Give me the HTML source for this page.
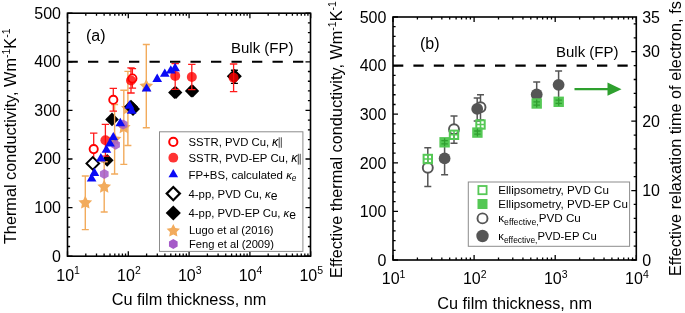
<!DOCTYPE html>
<html><head><meta charset="utf-8"><style>
html,body{margin:0;padding:0;background:#fff;}
body{width:685px;height:313px;overflow:hidden;font-family:"Liberation Sans",sans-serif;}
svg{display:block;will-change:transform;}
text{fill:#000;}
</style></head><body><svg width="685" height="313" viewBox="0 0 685 313" font-family='"Liberation Sans", sans-serif' fill="#000"><line x1="67.5" y1="61.80" x2="310.5" y2="61.80" stroke="#000" stroke-width="2.1" stroke-dasharray="10.3 10.2"/><path d="M112.00,112.60L118.80,119.40L112.00,126.20L105.20,119.40Z" fill="#000"/><path d="M107.20,153.90L113.60,160.30L107.20,166.70L100.80,160.30Z" fill="#000"/><path d="M174.50,86.20L180.90,92.60L174.50,99.00L168.10,92.60Z" fill="#000"/><path d="M176.00,86.20L182.40,92.60L176.00,99.00L169.60,92.60Z" fill="#000"/><path d="M191.30,84.60L197.70,91.00L191.30,97.40L184.90,91.00Z" fill="#000"/><path d="M192.80,84.60L199.20,91.00L192.80,97.40L186.40,91.00Z" fill="#000"/><path d="M234.00,69.00L241.20,76.20L234.00,83.40L226.80,76.20Z" fill="#000"/><path d="M234.60,69.00L241.80,76.20L234.60,83.40L227.40,76.20Z" fill="#000"/><path d="M234.40,70.30V83.40M230.90,70.30h7.0M230.90,83.40h7.0" stroke="#000" stroke-width="1.4" fill="none"/><polygon points="85.30,195.60 87.42,199.89 92.15,200.58 88.72,203.91 89.53,208.62 85.30,206.40 81.07,208.62 81.88,203.91 78.45,200.58 83.18,199.89" fill="#f2ab5c"/><polygon points="104.20,179.80 106.32,184.09 111.05,184.78 107.62,188.11 108.43,192.82 104.20,190.60 99.97,192.82 100.78,188.11 97.35,184.78 102.08,184.09" fill="#f2ab5c"/><polygon points="114.60,132.10 116.72,136.39 121.45,137.08 118.02,140.41 118.83,145.12 114.60,142.90 110.37,145.12 111.18,140.41 107.75,137.08 112.48,136.39" fill="#f2ab5c"/><polygon points="123.80,120.20 125.92,124.49 130.65,125.18 127.22,128.51 128.03,133.22 123.80,131.00 119.57,133.22 120.38,128.51 116.95,125.18 121.68,124.49" fill="#f2ab5c"/><polygon points="127.90,101.20 130.02,105.49 134.75,106.18 131.32,109.51 132.13,114.22 127.90,112.00 123.67,114.22 124.48,109.51 121.05,106.18 125.78,105.49" fill="#f2ab5c"/><polygon points="146.30,78.90 148.42,83.19 153.15,83.88 149.72,87.21 150.53,91.92 146.30,89.70 142.07,91.92 142.88,87.21 139.45,83.88 144.18,83.19" fill="#f2ab5c"/><path d="M85.30,176.00V229.60M81.80,176.00h7.0M81.80,229.60h7.0" stroke="#f2ab5c" stroke-width="1.4" fill="none"/><path d="M104.20,161.80V212.00M100.70,161.80h7.0M100.70,212.00h7.0" stroke="#f2ab5c" stroke-width="1.4" fill="none"/><path d="M114.60,104.50V174.00M111.10,104.50h7.0M111.10,174.00h7.0" stroke="#f2ab5c" stroke-width="1.4" fill="none"/><path d="M123.80,90.20V164.40M120.30,90.20h7.0M120.30,164.40h7.0" stroke="#f2ab5c" stroke-width="1.4" fill="none"/><path d="M127.90,71.40V145.50M124.40,71.40h7.0M124.40,145.50h7.0" stroke="#f2ab5c" stroke-width="1.4" fill="none"/><path d="M146.30,44.50V127.70M142.80,44.50h7.0M142.80,127.70h7.0" stroke="#f2ab5c" stroke-width="1.4" fill="none"/><path d="M93.70,133.20V165.00M90.00,133.20h7.4M90.00,165.00h7.4" stroke="#ff1a1a" stroke-width="1.3" fill="none"/><path d="M105.40,124.30V156.20M101.70,124.30h7.4M101.70,156.20h7.4" stroke="#ff1a1a" stroke-width="1.3" fill="none"/><path d="M113.30,88.40V111.10M109.60,88.40h7.4M109.60,111.10h7.4" stroke="#ff1a1a" stroke-width="1.3" fill="none"/><path d="M131.00,67.90V93.00M127.30,67.90h7.4M127.30,93.00h7.4" stroke="#ff1a1a" stroke-width="1.3" fill="none"/><path d="M132.40,68.60V88.20M128.70,68.60h7.4M128.70,88.20h7.4" stroke="#ff1a1a" stroke-width="1.3" fill="none"/><path d="M175.20,63.60V89.30M171.50,63.60h7.4M171.50,89.30h7.4" stroke="#ff1a1a" stroke-width="1.3" fill="none"/><path d="M191.80,64.30V89.70M188.10,64.30h7.4M188.10,89.70h7.4" stroke="#ff1a1a" stroke-width="1.3" fill="none"/><path d="M233.60,64.00V91.60M229.90,64.00h7.4M229.90,91.60h7.4" stroke="#ff1a1a" stroke-width="1.3" fill="none"/><circle cx="93.70" cy="149.10" r="4.1" fill="#fff" stroke="#ff0000" stroke-width="1.9"/><circle cx="113.30" cy="99.80" r="4.1" fill="#fff" stroke="#ff0000" stroke-width="1.9"/><circle cx="132.40" cy="78.50" r="4.1" fill="#fff" stroke="#ff0000" stroke-width="1.9"/><circle cx="105.40" cy="140.20" r="5.0" fill="#ff0000" fill-opacity="0.8"/><circle cx="131.00" cy="80.50" r="5.0" fill="#ff0000" fill-opacity="0.8"/><circle cx="175.20" cy="75.90" r="5.0" fill="#ff0000" fill-opacity="0.8"/><circle cx="191.80" cy="77.00" r="5.0" fill="#ff0000" fill-opacity="0.8"/><circle cx="233.60" cy="77.80" r="5.0" fill="#ff0000" fill-opacity="0.8"/><path d="M92.80,157.10L99.10,163.40L92.80,169.70L86.50,163.40Z" fill="#fff" stroke="#000" stroke-width="2.0" stroke-linejoin="miter"/><path d="M131.00,99.80L138.00,106.80L131.00,113.80L124.00,106.80Z" fill="#000"/><path d="M133.00,102.00L140.00,109.00L133.00,116.00L126.00,109.00Z" fill="#000"/><g opacity="0.85"><polygon points="104.30,169.00 108.63,171.50 108.63,176.50 104.30,179.00 99.97,176.50 99.97,171.50" fill="#a55ac8"/></g><g opacity="0.85"><polygon points="115.60,139.80 119.93,142.30 119.93,147.30 115.60,149.80 111.27,147.30 111.27,142.30" fill="#a55ac8"/></g><g opacity="0.85"><polygon points="123.20,119.60 127.53,122.10 127.53,127.10 123.20,129.60 118.87,127.10 118.87,122.10" fill="#a55ac8"/></g><path d="M91.60,173.20L96.45,181.60L86.75,181.60Z" fill="#0a0af5"/><path d="M94.40,167.60L99.25,176.00L89.55,176.00Z" fill="#0a0af5"/><path d="M100.90,153.00L105.75,161.40L96.05,161.40Z" fill="#0a0af5"/><path d="M106.40,144.40L111.25,152.80L101.55,152.80Z" fill="#0a0af5"/><path d="M110.00,138.10L114.85,146.50L105.15,146.50Z" fill="#0a0af5"/><path d="M113.30,131.90L118.15,140.30L108.45,140.30Z" fill="#0a0af5"/><path d="M120.30,117.80L125.15,126.20L115.45,126.20Z" fill="#0a0af5"/><path d="M129.50,100.30L134.35,108.70L124.65,108.70Z" fill="#0a0af5"/><path d="M131.60,105.40L136.45,113.80L126.75,113.80Z" fill="#0a0af5"/><path d="M146.60,83.20L151.45,91.60L141.75,91.60Z" fill="#0a0af5"/><path d="M157.20,73.60L162.05,82.00L152.35,82.00Z" fill="#0a0af5"/><path d="M164.80,68.40L169.65,76.80L159.95,76.80Z" fill="#0a0af5"/><path d="M170.80,65.20L175.65,73.60L165.95,73.60Z" fill="#0a0af5"/><path d="M175.10,62.80L179.95,71.20L170.25,71.20Z" fill="#0a0af5"/><path d="M67.5,256.20h5 M310.5,256.20h-5 M67.5,246.48h2.6 M310.5,246.48h-2.6 M67.5,236.76h2.6 M310.5,236.76h-2.6 M67.5,227.04h2.6 M310.5,227.04h-2.6 M67.5,217.32h2.6 M310.5,217.32h-2.6 M67.5,207.60h5 M310.5,207.60h-5 M67.5,197.88h2.6 M310.5,197.88h-2.6 M67.5,188.16h2.6 M310.5,188.16h-2.6 M67.5,178.44h2.6 M310.5,178.44h-2.6 M67.5,168.72h2.6 M310.5,168.72h-2.6 M67.5,159.00h5 M310.5,159.00h-5 M67.5,149.28h2.6 M310.5,149.28h-2.6 M67.5,139.56h2.6 M310.5,139.56h-2.6 M67.5,129.84h2.6 M310.5,129.84h-2.6 M67.5,120.12h2.6 M310.5,120.12h-2.6 M67.5,110.40h5 M310.5,110.40h-5 M67.5,100.68h2.6 M310.5,100.68h-2.6 M67.5,90.96h2.6 M310.5,90.96h-2.6 M67.5,81.24h2.6 M310.5,81.24h-2.6 M67.5,71.52h2.6 M310.5,71.52h-2.6 M67.5,61.80h5 M310.5,61.80h-5 M67.5,52.08h2.6 M310.5,52.08h-2.6 M67.5,42.36h2.6 M310.5,42.36h-2.6 M67.5,32.64h2.6 M310.5,32.64h-2.6 M67.5,22.92h2.6 M310.5,22.92h-2.6 M67.5,13.20h5 M310.5,13.20h-5 M67.50,256.2v-5 M67.50,13.2v5 M85.80,256.2v-2.6 M85.80,13.2v2.6 M96.51,256.2v-2.6 M96.51,13.2v2.6 M104.11,256.2v-2.6 M104.11,13.2v2.6 M110.00,256.2v-2.6 M110.00,13.2v2.6 M114.81,256.2v-2.6 M114.81,13.2v2.6 M118.88,256.2v-2.6 M118.88,13.2v2.6 M122.41,256.2v-2.6 M122.41,13.2v2.6 M125.52,256.2v-2.6 M125.52,13.2v2.6 M128.30,256.2v-5 M128.30,13.2v5 M146.60,256.2v-2.6 M146.60,13.2v2.6 M157.31,256.2v-2.6 M157.31,13.2v2.6 M164.91,256.2v-2.6 M164.91,13.2v2.6 M170.80,256.2v-2.6 M170.80,13.2v2.6 M175.61,256.2v-2.6 M175.61,13.2v2.6 M179.68,256.2v-2.6 M179.68,13.2v2.6 M183.21,256.2v-2.6 M183.21,13.2v2.6 M186.32,256.2v-2.6 M186.32,13.2v2.6 M189.10,256.2v-5 M189.10,13.2v5 M207.40,256.2v-2.6 M207.40,13.2v2.6 M218.11,256.2v-2.6 M218.11,13.2v2.6 M225.71,256.2v-2.6 M225.71,13.2v2.6 M231.60,256.2v-2.6 M231.60,13.2v2.6 M236.41,256.2v-2.6 M236.41,13.2v2.6 M240.48,256.2v-2.6 M240.48,13.2v2.6 M244.01,256.2v-2.6 M244.01,13.2v2.6 M247.12,256.2v-2.6 M247.12,13.2v2.6 M249.90,256.2v-5 M249.90,13.2v5 M268.20,256.2v-2.6 M268.20,13.2v2.6 M278.91,256.2v-2.6 M278.91,13.2v2.6 M286.51,256.2v-2.6 M286.51,13.2v2.6 M292.40,256.2v-2.6 M292.40,13.2v2.6 M297.21,256.2v-2.6 M297.21,13.2v2.6 M301.28,256.2v-2.6 M301.28,13.2v2.6 M304.81,256.2v-2.6 M304.81,13.2v2.6 M307.92,256.2v-2.6 M307.92,13.2v2.6 M310.70,256.2v-5 M310.70,13.2v5" stroke="#000" stroke-width="1.3" fill="none"/><rect x="67.5" y="13.2" width="243.0" height="243.0" fill="none" stroke="#000" stroke-width="1.6"/><text x="61" y="261.5" font-size="16" text-anchor="end" >0</text><text x="61" y="212.9" font-size="16" text-anchor="end" >100</text><text x="61" y="164.3" font-size="16" text-anchor="end" >200</text><text x="61" y="115.7" font-size="16" text-anchor="end" >300</text><text x="61" y="67.1" font-size="16" text-anchor="end" >400</text><text x="61" y="18.5" font-size="16" text-anchor="end" >500</text><text x="68.1" y="280.6" font-size="16" text-anchor="middle">10<tspan font-size="10.5" dy="-6.3">1</tspan></text><text x="128.9" y="280.6" font-size="16" text-anchor="middle">10<tspan font-size="10.5" dy="-6.3">2</tspan></text><text x="189.7" y="280.6" font-size="16" text-anchor="middle">10<tspan font-size="10.5" dy="-6.3">3</tspan></text><text x="250.5" y="280.6" font-size="16" text-anchor="middle">10<tspan font-size="10.5" dy="-6.3">4</tspan></text><text x="311.3" y="280.6" font-size="16" text-anchor="middle">10<tspan font-size="10.5" dy="-6.3">5</tspan></text><text x="189" y="304.8" font-size="16.3" text-anchor="middle" >Cu film thickness, nm</text><text transform="translate(15.9,136.3) rotate(-90)" font-size="16.3" text-anchor="middle">Thermal conductivity, Wm<tspan font-size="10.5" dy="-6">-1</tspan><tspan dy="6">K</tspan><tspan font-size="10.5" dy="-6">-1</tspan></text><text x="86" y="40.8" font-size="16" text-anchor="start" >(a)</text><text x="231" y="52.8" font-size="15" text-anchor="start" >Bulk (FP)</text><rect x="159.5" y="131.8" width="143.4" height="119.6" fill="#fff" stroke="#8c8c8c" stroke-width="1"/><circle cx="173.30" cy="141.90" r="4.1" fill="#fff" stroke="#ff0000" stroke-width="2.0"/><circle cx="173.30" cy="157.70" r="4.9" fill="#ff0000" fill-opacity="0.8"/><path d="M173.30,168.90L178.10,177.21L168.50,177.21Z" fill="#0a0af5"/><path d="M173.30,187.00L179.90,193.60L173.30,200.20L166.70,193.60Z" fill="#fff" stroke="#000" stroke-width="2.2" stroke-linejoin="miter"/><path d="M173.30,205.40L180.90,213.00L173.30,220.60L165.70,213.00Z" fill="#000"/><polygon points="173.30,223.90 175.36,228.07 179.96,228.74 176.63,231.98 177.41,236.56 173.30,234.40 169.19,236.56 169.97,231.98 166.64,228.74 171.24,228.07" fill="#f2ab5c"/><polygon points="173.30,239.00 177.63,241.50 177.63,246.50 173.30,249.00 168.97,246.50 168.97,241.50" fill="#a55ac8"/><text x="188.5" y="145.7" font-size="11.7" textLength="80.6" lengthAdjust="spacingAndGlyphs">SSTR, PVD Cu,</text><text x="272.0" y="145.7" font-size="12.6" font-style="italic">κ</text><path d="M279.2,137.3V147.8M281.3,137.3V147.8" stroke="#333" stroke-width="0.9"/><text x="188.5" y="162.2" font-size="11.7" textLength="99.6" lengthAdjust="spacingAndGlyphs">SSTR, PVD-EP Cu,</text><text x="291.2" y="162.2" font-size="12.6" font-style="italic">κ</text><path d="M298.3,153.8V164.6M300.2,153.8V164.6" stroke="#333" stroke-width="0.9"/><text x="188.5" y="178.5" font-size="11.7" textLength="108" lengthAdjust="spacingAndGlyphs">FP+BS, calculated <tspan font-style="italic">κ<tspan font-size="8.5" dy="2.5">e</tspan></tspan></text><text x="188.5" y="197.5" font-size="11.7" textLength="89" lengthAdjust="spacingAndGlyphs">4-pp, PVD Cu, <tspan font-style="italic">κ</tspan><tspan dy="2" font-size="12.5">e</tspan></text><text x="188.5" y="216.8" font-size="11.7" textLength="107.5" lengthAdjust="spacingAndGlyphs">4-pp, PVD-EP Cu, <tspan font-style="italic">κ</tspan><tspan dy="2" font-size="12.5">e</tspan></text><text x="189.0" y="234.3" font-size="11.7" textLength="84.6" lengthAdjust="spacingAndGlyphs">Lugo et al (2016)</text><text x="189.0" y="247.8" font-size="11.7" textLength="85" lengthAdjust="spacingAndGlyphs">Feng et al (2009)</text><line x1="393.0" y1="65.60" x2="636.3" y2="65.60" stroke="#000" stroke-width="2.1" stroke-dasharray="10.3 10.1"/><path d="M427.80,147.70V186.40M424.30,147.70h7.0M424.30,186.40h7.0" stroke="#555555" stroke-width="1.5" fill="none"/><path d="M444.60,142.00V174.70M441.10,142.00h7.0M441.10,174.70h7.0" stroke="#555555" stroke-width="1.5" fill="none"/><path d="M454.00,116.00V143.20M450.50,116.00h7.0M450.50,143.20h7.0" stroke="#555555" stroke-width="1.5" fill="none"/><path d="M480.50,94.80V120.00M477.00,94.80h7.0M477.00,120.00h7.0" stroke="#555555" stroke-width="1.5" fill="none"/><path d="M477.20,98.10V121.00M473.70,98.10h7.0M473.70,121.00h7.0" stroke="#555555" stroke-width="1.5" fill="none"/><path d="M536.70,81.90V107.00M533.20,81.90h7.0M533.20,107.00h7.0" stroke="#555555" stroke-width="1.5" fill="none"/><path d="M558.60,71.10V98.50M555.10,71.10h7.0M555.10,98.50h7.0" stroke="#555555" stroke-width="1.5" fill="none"/><circle cx="427.80" cy="167.70" r="5.0" fill="#fff" stroke="#555555" stroke-width="1.9"/><circle cx="454.00" cy="129.20" r="5.0" fill="#fff" stroke="#555555" stroke-width="1.9"/><circle cx="480.50" cy="107.30" r="5.0" fill="#fff" stroke="#555555" stroke-width="1.9"/><circle cx="444.60" cy="158.40" r="5.9" fill="#555555"/><circle cx="477.20" cy="108.90" r="5.9" fill="#555555"/><circle cx="536.70" cy="94.50" r="5.9" fill="#555555"/><circle cx="558.60" cy="84.80" r="5.9" fill="#555555"/><rect x="423.60" y="154.80" width="8.4" height="8.4" fill="none" stroke="#55c855" stroke-width="2.0"/><path d="M427.8,154.5V163.5M423.3,159.0h9" stroke="#55c855" stroke-width="1.6"/><rect x="439.40" y="137.10" width="10.4" height="10.4" fill="#55c855"/><path d="M444.6,138.3V146.3M441.40000000000003,140.70000000000002h6.4M441.40000000000003,143.9h6.4" stroke="#2f9e2f" stroke-width="1.3"/><rect x="449.80" y="130.60" width="8.4" height="8.4" fill="none" stroke="#55c855" stroke-width="2.0"/><path d="M454.0,130.3V139.3M449.5,134.8h9" stroke="#55c855" stroke-width="1.6"/><rect x="476.30" y="120.30" width="8.4" height="8.4" fill="none" stroke="#55c855" stroke-width="2.0"/><path d="M480.5,120.0V129.0M476.0,124.5h9" stroke="#55c855" stroke-width="1.6"/><rect x="472.20" y="127.40" width="10.4" height="10.4" fill="#55c855"/><path d="M477.4,128.6V136.6M474.2,131.0h6.4M474.2,134.2h6.4" stroke="#2f9e2f" stroke-width="1.3"/><rect x="531.50" y="98.30" width="10.4" height="10.4" fill="#55c855"/><path d="M536.7,99.5V107.5M533.5,101.9h6.4M533.5,105.1h6.4" stroke="#2f9e2f" stroke-width="1.3"/><rect x="553.50" y="96.60" width="10.4" height="10.4" fill="#55c855"/><path d="M558.7,97.8V105.8M555.5,100.2h6.4M555.5,103.39999999999999h6.4" stroke="#2f9e2f" stroke-width="1.3"/><path d="M574.5,89.2H609" stroke="#2ea02e" stroke-width="2.2"/><path d="M607.5,82.6L621.5,89.2L607.5,95.8Z" fill="#2ea02e"/><path d="M393.0,260.00h5 M393.0,250.28h2.6 M393.0,240.56h2.6 M393.0,230.84h2.6 M393.0,221.12h2.6 M393.0,211.40h5 M393.0,201.68h2.6 M393.0,191.96h2.6 M393.0,182.24h2.6 M393.0,172.52h2.6 M393.0,162.80h5 M393.0,153.08h2.6 M393.0,143.36h2.6 M393.0,133.64h2.6 M393.0,123.92h2.6 M393.0,114.20h5 M393.0,104.48h2.6 M393.0,94.76h2.6 M393.0,85.04h2.6 M393.0,75.32h2.6 M393.0,65.60h5 M393.0,55.88h2.6 M393.0,46.16h2.6 M393.0,36.44h2.6 M393.0,26.72h2.6 M393.0,17.00h5 M636.3,260.00h-5 M636.3,246.11h-2.6 M636.3,232.23h-2.6 M636.3,218.34h-2.6 M636.3,204.46h-2.6 M636.3,190.57h-5 M636.3,176.69h-2.6 M636.3,162.80h-2.6 M636.3,148.91h-2.6 M636.3,135.03h-2.6 M636.3,121.14h-5 M636.3,107.26h-2.6 M636.3,93.37h-2.6 M636.3,79.49h-2.6 M636.3,65.60h-2.6 M636.3,51.71h-5 M636.3,37.83h-2.6 M636.3,23.94h-2.6 M393.00,260.0v-5 M393.00,17.0v5 M417.41,260.0v-2.6 M417.41,17.0v2.6 M431.69,260.0v-2.6 M431.69,17.0v2.6 M441.83,260.0v-2.6 M441.83,17.0v2.6 M449.69,260.0v-2.6 M449.69,17.0v2.6 M456.11,260.0v-2.6 M456.11,17.0v2.6 M461.54,260.0v-2.6 M461.54,17.0v2.6 M466.24,260.0v-2.6 M466.24,17.0v2.6 M470.39,260.0v-2.6 M470.39,17.0v2.6 M474.10,260.0v-5 M474.10,17.0v5 M498.51,260.0v-2.6 M498.51,17.0v2.6 M512.79,260.0v-2.6 M512.79,17.0v2.6 M522.93,260.0v-2.6 M522.93,17.0v2.6 M530.79,260.0v-2.6 M530.79,17.0v2.6 M537.21,260.0v-2.6 M537.21,17.0v2.6 M542.64,260.0v-2.6 M542.64,17.0v2.6 M547.34,260.0v-2.6 M547.34,17.0v2.6 M551.49,260.0v-2.6 M551.49,17.0v2.6 M555.20,260.0v-5 M555.20,17.0v5 M579.61,260.0v-2.6 M579.61,17.0v2.6 M593.89,260.0v-2.6 M593.89,17.0v2.6 M604.03,260.0v-2.6 M604.03,17.0v2.6 M611.89,260.0v-2.6 M611.89,17.0v2.6 M618.31,260.0v-2.6 M618.31,17.0v2.6 M623.74,260.0v-2.6 M623.74,17.0v2.6 M628.44,260.0v-2.6 M628.44,17.0v2.6 M632.59,260.0v-2.6 M632.59,17.0v2.6 M636.30,260.0v-5 M636.30,17.0v5" stroke="#000" stroke-width="1.3" fill="none"/><rect x="393.0" y="17.0" width="243.29999999999995" height="243.0" fill="none" stroke="#000" stroke-width="1.6"/><text x="386.4" y="265.7" font-size="16" text-anchor="end" >0</text><text x="386.4" y="217.1" font-size="16" text-anchor="end" >100</text><text x="386.4" y="168.5" font-size="16" text-anchor="end" >200</text><text x="386.4" y="119.9" font-size="16" text-anchor="end" >300</text><text x="386.4" y="71.3" font-size="16" text-anchor="end" >400</text><text x="386.4" y="22.7" font-size="16" text-anchor="end" >500</text><text x="393.6" y="284.4" font-size="16" text-anchor="middle">10<tspan font-size="10.5" dy="-6.3">1</tspan></text><text x="474.7" y="284.4" font-size="16" text-anchor="middle">10<tspan font-size="10.5" dy="-6.3">2</tspan></text><text x="555.8" y="284.4" font-size="16" text-anchor="middle">10<tspan font-size="10.5" dy="-6.3">3</tspan></text><text x="636.9" y="284.4" font-size="16" text-anchor="middle">10<tspan font-size="10.5" dy="-6.3">4</tspan></text><text x="642.2" y="265.7" font-size="16" text-anchor="start" >0</text><text x="642.2" y="196.3" font-size="16" text-anchor="start" >10</text><text x="642.2" y="126.8" font-size="16" text-anchor="start" >20</text><text x="642.2" y="57.4" font-size="16" text-anchor="start" >30</text><text x="642.2" y="22.7" font-size="16" text-anchor="start" >35</text><text x="514.6" y="308.7" font-size="16.3" text-anchor="middle" >Cu film thickness, nm</text><text transform="translate(342,139.5) rotate(-90)" font-size="16.3" text-anchor="middle">Effective thermal conductivity, Wm<tspan font-size="10.5" dy="-6">-1</tspan><tspan dy="6">K</tspan><tspan font-size="10.5" dy="-6">-1</tspan></text><text transform="translate(681.4,138.6) rotate(-90)" font-size="16.3" text-anchor="middle">Effective relaxation time of electron, fs</text><text x="420" y="48.7" font-size="16" text-anchor="start" >(b)</text><text x="556" y="56.5" font-size="15" text-anchor="start" >Bulk (FP)</text><rect x="468.3" y="182.0" width="161.3" height="64.3" fill="#fff" stroke="#8c8c8c" stroke-width="1"/><rect x="478.40" y="186.00" width="8.2" height="8.2" fill="none" stroke="#55c855" stroke-width="1.8"/><rect x="477.50" y="199.00" width="10.0" height="10.0" fill="#55c855"/><circle cx="482.50" cy="218.40" r="5.0" fill="#fff" stroke="#555555" stroke-width="1.9"/><circle cx="482.50" cy="236.00" r="6.2" fill="#555555"/><text x="498.3" y="194.2" font-size="11.0" textLength="110.6" lengthAdjust="spacingAndGlyphs">Ellipsometry, PVD Cu</text><text x="498.3" y="208.2" font-size="11.0" textLength="129.6" lengthAdjust="spacingAndGlyphs">Ellipsometry, PVD-EP Cu</text><text x="498.3" y="221.8" font-size="11.0" textLength="82.5" lengthAdjust="spacingAndGlyphs">κ<tspan font-size="8.2" dy="3">effective,</tspan><tspan dy="-3">PVD Cu</tspan></text><text x="498.3" y="239.5" font-size="11.0" textLength="98.5" lengthAdjust="spacingAndGlyphs">κ<tspan font-size="8.2" dy="3">effective,</tspan><tspan dy="-3">PVD-EP Cu</tspan></text></svg></body></html>
